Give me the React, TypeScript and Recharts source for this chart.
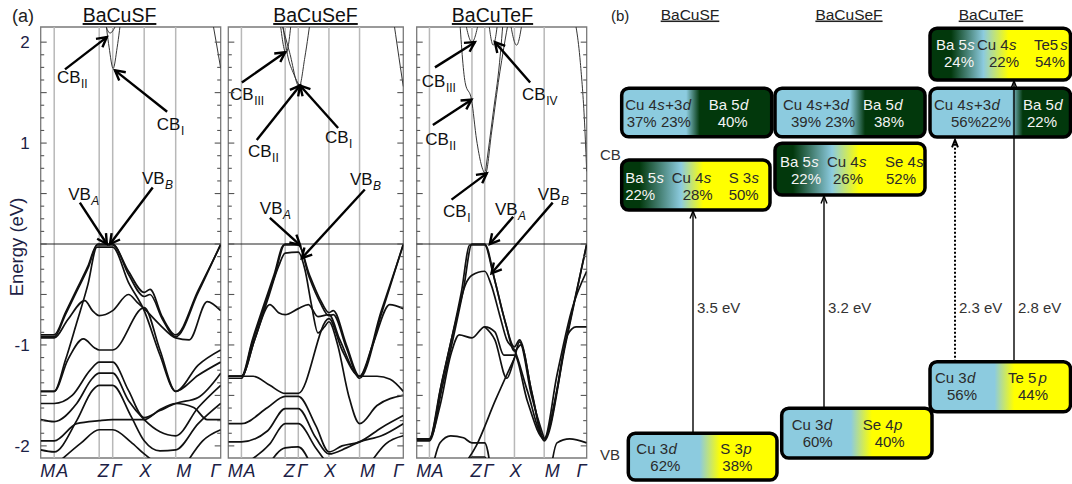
import React from "react";
import {
  ComposedChart,
  Line,
  LineChart,
  ReferenceArea,
  ReferenceDot,
  ReferenceLine,
  Scatter,
  XAxis,
  YAxis,
} from "recharts";

const FONT = '"Liberation Sans", Arial, Helvetica, sans-serif';
const NAVY = "#1c2145";
const CU = "#8ccbdf";
const BA = "#02380c";
const AN = "#ffff00";

// k-path M-A-Z-Γ-X-M-Γ in path units
const kPath = [0, 0.3, 1.3, 1.6, 2.3, 3.0, 4.0];
const kNames = ["M", "A", "Z", "Γ", "X", "M", "Γ"];
const energyLabels = [2, 1, -1, -2];
const E_MIN = -2.12;
const E_MAX = 2.15;
const energyTicks = Array.from({ length: 33 }, (_, i) => -2 + i * 0.125);

const compounds = ["BaCuSF", "BaCuSeF", "BaCuTeF"];

type Pt = [number, number];

// band energies (eV) along the path, VBM = 0
const sfValence: Pt[][] = [
  [[0, -0.9], [0.3, -0.9], [0.55, -0.68], [0.8, -0.45], [1.05, -0.22], [1.25, -0.01], [1.6, -0.01], [1.95, -0.27], [2.3, -0.48], [2.43, -0.45], [2.7, -0.72], [3.0, -0.9], [3.5, -0.46], [4.0, -0.01]],
  [[0, -0.92], [0.3, -0.92], [0.55, -0.7], [0.8, -0.47], [1.05, -0.24], [1.27, 0], [1.6, 0], [1.95, -0.3], [2.3, -0.52], [2.43, -0.5], [2.7, -0.74], [3.0, -0.92], [3.5, -0.48], [4.0, 0]],
  [[0, -1.46], [0.3, -1.46], [0.55, -1.15], [0.8, -0.78], [1.05, -0.4], [1.25, -0.03], [1.6, -0.03], [1.95, -0.38], [2.3, -0.66], [2.65, -1.1], [3.0, -1.46], [3.5, -1.3], [4.0, -1.17]],
  [[0, -0.93], [0.3, -0.93], [0.6, -0.75], [0.98, -0.56], [1.15, -0.66], [1.3, -0.71], [1.6, -0.66], [1.95, -0.5], [2.15, -0.58], [2.3, -0.64], [2.65, -0.8], [3.0, -0.93], [3.3, -0.95], [3.7, -0.57], [4.0, -0.66]],
  [[0, -1.46], [0.3, -1.46], [0.6, -1.15], [0.95, -0.94], [1.2, -1.03], [1.3, -1.05], [1.6, -1.05], [2.3, -0.63], [2.65, -1.05], [3.0, -1.46], [3.5, -1.2], [4.0, -1.05]],
  [[0, -1.58], [0.3, -1.58], [0.7, -1.5], [1.1, -1.25], [1.3, -1.17], [1.6, -1.17], [1.95, -1.45], [2.3, -1.72], [2.65, -1.65], [3.0, -1.58], [3.5, -1.52], [4.0, -1.28]],
  [[0, -1.74], [0.3, -1.76], [0.8, -1.58], [1.15, -1.33], [1.3, -1.28], [1.6, -1.28], [1.95, -1.55], [2.3, -1.74], [2.65, -1.86], [3.0, -1.9], [3.5, -1.62], [4.0, -1.4]],
  [[0, -2.04], [0.3, -2.06], [0.8, -1.75], [1.15, -1.45], [1.3, -1.4], [1.6, -1.4], [2.0, -1.7], [2.3, -1.95], [2.65, -2.05], [3.0, -2.04], [3.5, -1.78], [4.0, -1.58]],
  [[0, -1.95], [0.3, -1.95], [0.8, -1.78], [1.3, -1.75], [1.6, -1.74], [2.3, -1.74], [2.65, -1.64], [3.0, -1.58], [3.4, -1.62], [3.7, -1.74], [4.0, -1.74]],
  [[0.3, -2.2], [0.9, -1.97], [1.3, -1.84], [1.6, -1.84], [2.0, -1.96], [2.3, -2.08], [2.65, -2.2]],
  [[3.2, -2.2], [3.6, -1.95], [4.0, -1.84]],
];
const sfConduction: Pt[][] = [
  [[1.42, 2.3], [1.52, 1.95], [1.61, 1.74], [1.7, 1.95], [1.8, 2.3]],
  [[1.42, 2.2], [1.54, 2.09], [1.7, 2.2]],
  [[3.78, 2.3], [3.9, 2.0], [4.0, 1.74]],
];

const sefValence: Pt[][] = [
  [[0, -1.31], [0.3, -1.31], [0.55, -0.95], [0.8, -0.62], [1.05, -0.3], [1.27, -0.01], [1.6, -0.01], [1.85, -0.3], [2.1, -0.55], [2.3, -0.68], [2.4, -0.66], [2.7, -1.0], [3.0, -1.31], [3.5, -0.66], [4.0, -0.01]],
  [[0, -1.33], [0.3, -1.33], [0.55, -0.97], [0.8, -0.65], [1.05, -0.33], [1.3, 0], [1.6, 0], [1.85, -0.33], [2.1, -0.58], [2.3, -0.71], [2.4, -0.7], [2.7, -1.03], [3.0, -1.33], [3.5, -0.69], [4.0, 0]],
  [[0, -1.31], [0.3, -1.31], [0.6, -0.95], [0.9, -0.55], [1.15, -0.22], [1.3, -0.09], [1.6, -0.08], [1.75, -0.25], [1.9, -0.6], [2.05, -0.88], [2.2, -0.82], [2.3, -0.77], [2.5, -1.0], [2.75, -1.5], [3.0, -1.78], [3.4, -1.6], [4.0, -1.5]],
  [[0, -1.31], [0.3, -1.31], [0.6, -0.95], [0.95, -0.6], [1.15, -0.68], [1.3, -0.7], [1.6, -0.64], [1.83, -0.6], [2.05, -0.72], [2.3, -0.7], [2.55, -0.95], [3.0, -1.31], [3.3, -1.0], [3.69, -0.6], [4.0, -0.64]],
  [[0, -1.31], [0.3, -1.31], [0.57, -1.31], [0.95, -1.4], [1.3, -1.48], [1.6, -1.48], [2.3, -0.74], [2.6, -1.05], [3.0, -1.31], [3.4, -1.31], [3.7, -1.34], [4.0, -1.46]],
  [[0, -1.78], [0.3, -1.78], [0.9, -1.62], [1.3, -1.51], [1.6, -1.51], [2.0, -1.8], [2.3, -2.06], [2.6, -2.0], [3.0, -1.96], [3.5, -1.82], [4.0, -1.7]],
  [[0, -1.96], [0.3, -1.96], [0.9, -1.85], [1.3, -1.63], [1.6, -1.63], [2.0, -1.92], [2.3, -2.08], [2.7, -2.02], [3.0, -1.96], [3.5, -1.9], [4.0, -1.78]],
  [[0.3, -2.2], [0.95, -1.98], [1.3, -1.78], [1.6, -1.78], [2.0, -2.02], [2.3, -2.2]],
  [[0.9, -2.2], [1.3, -2.02], [1.6, -2.01], [1.9, -2.2]],
  [[3.2, -2.2], [3.6, -1.98], [4.0, -1.9]],
];
const sefConduction: Pt[][] = [
  [[1.15, 2.3], [1.4, 1.9], [1.62, 1.56], [1.75, 1.85], [1.9, 2.3]],
  [[1.17, 2.25], [1.32, 1.89], [1.45, 2.25]],
  [[1.22, 2.25], [1.35, 1.88], [1.5, 1.68], [1.62, 1.57]],
  [[3.75, 2.3], [3.9, 1.85], [4.0, 1.56]],
];

const tefValence: Pt[][] = [
  [[0, -1.93], [0.3, -1.93], [0.55, -1.45], [0.8, -0.98], [1.05, -0.48], [1.25, -0.01], [1.6, -0.01], [1.8, -0.3], [2.05, -0.72], [2.3, -1.02], [2.42, -0.95], [2.7, -1.45], [3.0, -1.93], [3.5, -0.97], [4.0, -0.01]],
  [[0, -1.95], [0.3, -1.95], [0.6, -1.42], [0.85, -0.95], [1.1, -0.45], [1.3, 0], [1.6, 0], [1.85, -0.38], [2.1, -0.8], [2.3, -1.06], [2.45, -1.0], [2.72, -1.5], [3.0, -1.95], [3.5, -1.0], [4.0, 0]],
  [[0, -1.93], [0.3, -1.93], [0.6, -1.35], [0.9, -0.8], [1.15, -0.4], [1.3, -0.31], [1.6, -0.27], [1.75, -0.4], [1.95, -0.7], [2.12, -0.95], [2.3, -1.05], [2.6, -1.45], [3.0, -1.93], [3.3, -1.3], [3.65, -0.65], [4.0, -0.27]],
  [[0, -1.93], [0.3, -1.93], [0.55, -1.6], [0.8, -1.1], [1.0, -0.9], [1.3, -0.93], [1.6, -0.82], [1.84, -0.87], [2.05, -1.1], [2.3, -1.1], [2.6, -1.55], [3.0, -1.93], [3.3, -1.45], [3.55, -0.9], [3.75, -0.82], [4.0, -0.82]],
  [[1.6, -0.82], [1.84, -0.95], [2.12, -1.33], [2.3, -1.13], [2.42, -0.97], [2.7, -1.5], [3.0, -1.93]],
  [[1.0, -2.25], [1.4, -2.0], [1.85, -1.55], [2.3, -1.13]],
  [[0.35, -2.25], [0.55, -1.97], [0.8, -1.9], [1.1, -1.92], [1.3, -1.97], [1.6, -1.97], [1.75, -2.25]],
  [[3.15, -2.25], [3.3, -1.97], [3.6, -1.93], [4.0, -1.97]],
  [[1.15, -2.25], [1.3, -2.11], [1.6, -2.11], [1.72, -2.25]],
];
const tefConduction: Pt[][] = [
  [[1.0, 2.3], [1.14, 1.6], [1.29, 1.43], [1.41, 1.03], [1.62, 0.7], [1.76, 1.1], [1.92, 1.6], [2.08, 2.02], [2.2, 2.3]],
  [[1.62, 0.72], [1.8, 1.3], [1.95, 1.8], [2.05, 2.3]],
  [[1.12, 2.25], [1.3, 2.0], [1.48, 2.25]],
  [[1.68, 2.25], [1.8, 1.97], [1.92, 2.25]],
  [[2.18, 2.25], [2.35, 1.97], [2.5, 2.25]],
  [[3.68, 2.3], [3.85, 1.8], [3.95, 1.2], [4.0, 0.72]],
];

type Note = { text: string; sub: string; italic?: boolean; at: Pt; from: Pt; to: Pt };

const sfNotes: Note[] = [
  { text: "CB", sub: "II", at: [0.36, 1.6], from: [0.54, 1.73], to: [1.47, 2.05] },
  { text: "CB", sub: "I", at: [2.58, 1.13], from: [2.81, 1.31], to: [1.65, 1.72] },
  { text: "VB", sub: "A", italic: true, at: [0.61, 0.44], from: [0.87, 0.41], to: [1.47, 0.0] },
  { text: "VB", sub: "B", italic: true, at: [2.25, 0.59], from: [2.49, 0.56], to: [1.54, 0.0] },
];
const sefNotes: Note[] = [
  { text: "CB", sub: "III", at: [0.04, 1.43], from: [0.31, 1.6], to: [1.3, 1.9] },
  { text: "CB", sub: "II", at: [0.45, 0.86], from: [0.65, 1.03], to: [1.64, 1.57] },
  { text: "CB", sub: "I", at: [2.21, 1.0], from: [2.51, 1.15], to: [1.64, 1.57] },
  { text: "VB", sub: "A", italic: true, at: [0.72, 0.3], from: [0.95, 0.26], to: [1.64, -0.01] },
  { text: "VB", sub: "B", italic: true, at: [2.78, 0.58], from: [3.12, 0.54], to: [1.68, -0.14] },
];
const tefNotes: Note[] = [
  { text: "CB", sub: "III", at: [0.12, 1.56], from: [0.43, 1.75], to: [1.37, 2.0] },
  { text: "CB", sub: "II", at: [0.2, 0.98], from: [0.38, 1.18], to: [1.29, 1.43] },
  { text: "CB", sub: "I", at: [0.62, 0.27], from: [0.82, 0.44], to: [1.65, 0.7] },
  { text: "CB", sub: "IV", at: [2.48, 1.43], from: [2.67, 1.6], to: [1.84, 2.0] },
  { text: "VB", sub: "A", italic: true, at: [1.84, 0.29], from: [2.27, 0.27], to: [1.72, 0.0] },
  { text: "VB", sub: "B", italic: true, at: [2.85, 0.44], from: [3.2, 0.41], to: [1.76, -0.29] },
];

// orbital character of the band edges: [orbital, weight]
const sfCbHigh = [["Cu 4s+3d", "37% 23%"], ["Ba 5d", "40%"]];
const sfCbLow = [["Ba 5s", "22%"], ["Cu 4s", "28%"], ["S 3s", "50%"]];
const sfVb = [["Cu 3d", "62%"], ["S 3p", "38%"]];
const sefCbHigh = [["Cu 4s+3d", "39% 23%"], ["Ba 5d", "38%"]];
const sefCbLow = [["Ba 5s", "22%"], ["Cu 4s", "26%"], ["Se 4s", "52%"]];
const sefVb = [["Cu 3d", "60%"], ["Se 4p", "40%"]];
const tefCbHigh = [["Ba 5s", "24%"], ["Cu 4s", "22%"], ["Te5s", "54%"]];
const tefCbLow = [["Cu 4s+3d", "56%22%"], ["Ba 5d", "22%"]];
const tefVb = [["Cu 3d", "56%"], ["Te 5p", "44%"]];
const gapValues = [3.5, 3.2, 2.3, 2.8];

type Box = {
  parts: string[][];
  x1: number; x2: number; y1: number; y2: number;
  stops: [number, string][];
  dx: number[][];
  rows: number[];
};

// schematic layout (panel units, y downwards)
const boxes: Box[] = [
  { parts: sfCbHigh, x1: 21.7, x2: 171.7, y1: 88.3, y2: 136.7, stops: [[0, CU], [0.43, CU], [0.52, BA], [1, BA]], dx: [[3.5, 5], [87, 96]], rows: [22, 39] },
  { parts: sfCbLow, x1: 21.7, x2: 170, y1: 160, y2: 210, stops: [[0, BA], [0.12, BA], [0.4, CU], [0.55, AN], [1, AN]], dx: [[3.5, 3.5], [50, 61], [107, 107]], rows: [22.5, 39.5] },
  { parts: sfVb, x1: 28.3, x2: 177, y1: 433.3, y2: 480, stops: [[0, CU], [0.48, CU], [0.62, AN], [1, AN]], dx: [[8, 22], [92, 94]], rows: [21, 38] },
  { parts: sefCbHigh, x1: 175, x2: 325, y1: 88.3, y2: 136.7, stops: [[0, CU], [0.5, CU], [0.6, BA], [1, BA]], dx: [[8, 16], [88, 99]], rows: [22, 39] },
  { parts: sefCbLow, x1: 175, x2: 325, y1: 143.3, y2: 195, stops: [[0, BA], [0.12, BA], [0.38, CU], [0.56, AN], [1, AN]], dx: [[5, 16], [52, 58], [110, 111]], rows: [23.5, 41] },
  { parts: sefVb, x1: 181.7, x2: 332, y1: 408.3, y2: 458, stops: [[0, CU], [0.46, CU], [0.6, AN], [1, AN]], dx: [[10, 21], [81, 93]], rows: [21.5, 38.5] },
  { parts: tefCbHigh, x1: 330, x2: 470.5, y1: 28.3, y2: 80, stops: [[0, BA], [0.15, BA], [0.38, CU], [0.56, AN], [1, AN]], dx: [[6, 14], [47, 59], [104, 105]], rows: [22, 39] },
  { parts: tefCbLow, x1: 330, x2: 470.5, y1: 88.3, y2: 137, stops: [[0, CU], [0.58, CU], [0.66, BA], [1, BA]], dx: [[4, 21], [93, 97]], rows: [21.5, 38.5] },
  { parts: tefVb, x1: 330, x2: 470.5, y1: 361.7, y2: 411.7, stops: [[0, CU], [0.46, CU], [0.6, AN], [1, AN]], dx: [[5, 17], [78, 88]], rows: [21.5, 38.5] },
];
const gapArrows = [
  { x: 93, from: 433.3, to: 211, dotted: false },
  { x: 224, from: 408.3, to: 196, dotted: false },
  { x: 355, from: 361.7, to: 140, dotted: true },
  { x: 414, from: 361.7, to: 81, dotted: false },
];

const pts = (b: Pt[]) => b.map(([k, e]) => ({ k, e }));

// Arial / Liberation Sans advance widths (em) for the glyphs used in run-split labels
const GLYPH: Record<string, number> = {
  " ": 0.278, "+": 0.584, "%": 0.889, C: 0.722, u: 0.556, B: 0.667, a: 0.556, S: 0.667,
  e: 0.556, T: 0.611, s: 0.5, d: 0.556, p: 0.556, V: 0.667, I: 0.278, A: 0.667,
};
const textW = (s: string, size: number) => [...s].reduce((w, ch) => w + (GLYPH[ch] ?? 0.556) * size, 0);

// split "Cu 4s+3d" into runs with the orbital letter set in italics
const orbitalRuns = (s: string) => {
  const runs: { t: string; it: boolean }[] = [];
  s.split(/(?<=\d)([spd])/).forEach((part, i) => {
    if (part) runs.push({ t: part, it: i % 2 === 1 });
  });
  return runs;
};

function RunText({ x, y, text, size, fill }: { x: number; y: number; text: string; size: number; fill: string }) {
  let cx = x;
  return (
    <g>
      {orbitalRuns(text).map((r, i) => {
        const el = (
          <text key={i} x={cx} y={y} fontSize={size} fill={fill} fontFamily={FONT} fontStyle={r.it ? "italic" : "normal"} style={{ whiteSpace: "pre" }}>
            {r.t}
          </text>
        );
        cx += textW(r.t, size) + 0.4;
        return el;
      })}
    </g>
  );
}

function Arrow({ x1, y1, x2, y2, len, spread, width, dash }: any) {
  const a = Math.atan2(y2 - y1, x2 - x1);
  const lx = x2 - len * Math.cos(a - spread);
  const ly = y2 - len * Math.sin(a - spread);
  const rx = x2 - len * Math.cos(a + spread);
  const ry = y2 - len * Math.sin(a + spread);
  return (
    <g>
      <line x1={x1} y1={y1} x2={x2} y2={y2} stroke="#000" strokeWidth={width} strokeDasharray={dash} />
      <polyline points={`${lx},${ly} ${x2},${y2} ${rx},${ry}`} fill="none" stroke="#000" strokeWidth={width} />
    </g>
  );
}

const energyTick = (side: "left" | "right", labelled: boolean) => (props: any) => {
  const { x, y, payload } = props;
  const v = payload.value as number;
  const major = Math.abs(v * 2 - Math.round(v * 2)) < 1e-6;
  const dir = side === "left" ? 1 : -1;
  const label = energyLabels.find((l) => Math.abs(l - v) < 1e-6);
  return (
    <g>
      <line x1={x} x2={x + dir * (major ? 6 : 3.5)} y1={y} y2={y} stroke="#555" strokeWidth={1.1} />
      {labelled && label !== undefined && (
        <text x={x - 11} y={y + 6} textAnchor="end" fontSize={17} fill={NAVY} fontFamily={FONT}>
          {String(label)}
        </text>
      )}
    </g>
  );
};

const kDx = [7, 8, 4, 4, 1, 8, -5];
const KTick = (props: any) => {
  const { x, y, index } = props;
  return (
    <text x={x + kDx[index]} y={y + 19} textAnchor="middle" fontStyle="italic" fontSize={18} fill={NAVY} fontFamily={FONT}>
      {kNames[index]}
    </text>
  );
};

function NoteText({ cx, cy, note }: { cx: number; cy: number; note: Note }) {
  return (
    <g>
      <text x={cx} y={cy} fontSize={17} fill="#111" fontFamily={FONT}>
        {note.text}
      </text>
      <text x={cx + textW(note.text, 17) + 0.5} y={cy + 5} fontSize={12} fill="#111" fontFamily={FONT} fontStyle={note.italic ? "italic" : "normal"}>
        {note.sub}
      </text>
    </g>
  );
}

type PanelProps = {
  chartLeft: number;
  axisLeft: number;
  plotW: number;
  valence: Pt[][];
  conduction: Pt[][];
  notes: Note[];
  labelled: boolean;
};

function BandPanel({ chartLeft, axisLeft, plotW, valence, conduction, notes, labelled }: PanelProps) {
  const axisRight = 5.5;
  return (
    <div style={{ position: "absolute", left: chartLeft, top: 0 }}>
      <LineChart width={axisLeft + plotW + axisRight} height={484} margin={{ top: 27, right: 0, bottom: 0, left: 0 }}>
        <XAxis
          dataKey="k"
          type="number"
          domain={[0, 4]}
          ticks={kPath}
          interval={0}
          allowDataOverflow
          height={26}
          tickSize={0}
          tickMargin={0}
          axisLine={false}
          tickLine={false}
          tick={KTick}
        />
        <YAxis
          type="number"
          domain={[E_MIN, E_MAX]}
          allowDataOverflow
          ticks={energyTicks}
          interval={0}
          width={axisLeft}
          tickSize={0}
          tickMargin={0}
          axisLine={false}
          tickLine={false}
          tick={energyTick("left", labelled)}
        />
        <YAxis
          yAxisId="r"
          orientation="right"
          type="number"
          domain={[E_MIN, E_MAX]}
          allowDataOverflow
          ticks={energyTicks}
          interval={0}
          width={axisRight}
          tickSize={0}
          tickMargin={0}
          axisLine={false}
          tickLine={false}
          tick={energyTick("right", false)}
        />
        {kPath.slice(1, -1).map((k, i) => (
          <ReferenceLine key={`g${i}`} x={k} stroke="#b8b8b8" strokeWidth={1.5} />
        ))}
        <ReferenceLine y={0} stroke="#222" strokeWidth={1} />
        <ReferenceArea x1={0} x2={4} y1={E_MIN} y2={E_MAX} fill="none" stroke="#7a7a7a" strokeWidth={1.3} />
        {valence.map((b, i) => (
          <Line key={`v${i}`} data={pts(b)} dataKey="e" type="monotone" stroke="#111" strokeWidth={1.7} dot={false} isAnimationActive={false} />
        ))}
        {conduction.map((b, i) => (
          <Line key={`c${i}`} data={pts(b)} dataKey="e" type="monotone" stroke="#333" strokeWidth={1} dot={false} isAnimationActive={false} />
        ))}
        {notes.map((n, i) => (
          <ReferenceLine
            key={`a${i}`}
            segment={[{ x: n.from[0], y: n.from[1] }, { x: n.to[0], y: n.to[1] }]}
            shape={(p: any) => <Arrow x1={p.x1} y1={p.y1} x2={p.x2} y2={p.y2} len={11} spread={0.5} width={2.4} />}
          />
        ))}
        {notes.map((n, i) => (
          <ReferenceDot key={`t${i}`} x={n.at[0]} y={n.at[1]} r={0} shape={(p: any) => <NoteText cx={p.cx} cy={p.cy} note={n} />} />
        ))}
      </LineChart>
    </div>
  );
}

const boxShape = (box: Box, idx: number) => (p: any) => {
  const { x, y, width, height } = p;
  const id = `orb-grad-${idx}`;
  return (
    <g>
      <defs>
        <linearGradient id={id} x1="0" y1="0" x2="1" y2="0">
          {box.stops.map(([o, c], i) => (
            <stop key={i} offset={o} stopColor={c} />
          ))}
        </linearGradient>
      </defs>
      <rect x={x} y={y} width={width} height={height} rx={7} ry={7} fill={`url(#${id})`} stroke="#000" strokeWidth={3.5} />
      {box.parts.map(([name, pct], j) => {
        const fill = name.startsWith("Ba") ? "#f4f4f4" : "#2a2a2a";
        return (
          <g key={j}>
            <RunText x={x + box.dx[j][0]} y={y + box.rows[0]} text={name} size={15} fill={fill} />
            <text x={x + box.dx[j][1]} y={y + box.rows[1]} fontSize={15} fill={fill} fontFamily={FONT}>
              {pct}
            </text>
          </g>
        );
      })}
    </g>
  );
};

function OrbitalPanel() {
  const gapLabels = gapArrows.map((a, i) => ({ x: a.x + 4, y: 313, text: `${gapValues[i]} eV` }));
  return (
    <div style={{ position: "absolute", left: 600, top: 0 }}>
      <ComposedChart width={472} height={484} margin={{ top: 0, right: 0, bottom: 0, left: 0 }}>
        <XAxis type="number" dataKey="x" domain={[0, 472]} hide />
        <YAxis type="number" dataKey="y" domain={[0, 484]} reversed hide />
        {boxes.map((b, i) => (
          <ReferenceArea key={`b${i}`} x1={b.x1} x2={b.x2} y1={b.y1} y2={b.y2} shape={boxShape(b, i)} />
        ))}
        {gapArrows.map((a, i) => (
          <ReferenceLine
            key={`g${i}`}
            segment={[{ x: a.x, y: a.from }, { x: a.x, y: a.to }]}
            shape={(p: any) => (
              <Arrow x1={p.x1} y1={p.y1} x2={p.x2} y2={p.y2} len={8} spread={0.38} width={a.dotted ? 2 : 1.4} dash={a.dotted ? "2 2" : undefined} />
            )}
          />
        ))}
        <Scatter
          data={gapLabels}
          isAnimationActive={false}
          shape={(p: any) => (
            <text x={p.cx} y={p.cy} fontSize={15} fill="#333" fontFamily={FONT}>
              {p.payload.text}
            </text>
          )}
        />
      </ComposedChart>
    </div>
  );
}

export default function App() {
  const aTitles = [119.5, 315.5, 492.5];
  const bTitles = [690, 849, 991];
  return (
    <div style={{ position: "absolute", left: 0, top: 0, width: 1072, height: 484, background: "#fff", fontFamily: FONT, overflow: "hidden" }}>
      <BandPanel chartLeft={0} axisLeft={40.7} plotW={180} valence={sfValence} conduction={sfConduction} notes={sfNotes} labelled />
      <BandPanel chartLeft={222} axisLeft={6.3} plotW={175} valence={sefValence} conduction={sefConduction} notes={sefNotes} labelled={false} />
      <BandPanel chartLeft={410} axisLeft={6.7} plotW={170} valence={tefValence} conduction={tefConduction} notes={tefNotes} labelled={false} />
      <OrbitalPanel />
      <svg width={1072} height={484} style={{ position: "absolute", left: 0, top: 0, pointerEvents: "none" }} fontFamily={FONT}>
        <text x={12} y={22} fontSize={18} fill="#222">(a)</text>
        {compounds.map((c, i) => (
          <text key={`ta${i}`} x={aTitles[i]} y={22} fontSize={19.5} textAnchor="middle" fill="#111" style={{ textDecoration: "underline" }}>
            {c}
          </text>
        ))}
        <text transform="translate(23,247) rotate(-90)" textAnchor="middle" fontSize={18.5} fill={NAVY}>
          Energy (eV)
        </text>
        <text x={611} y={21} fontSize={15} fill="#222">(b)</text>
        {compounds.map((c, i) => (
          <text key={`tb${i}`} x={bTitles[i]} y={19.5} fontSize={15.5} textAnchor="middle" fill="#222" style={{ textDecoration: "underline" }}>
            {c}
          </text>
        ))}
        <text x={600} y={160} fontSize={15} fill="#333">CB</text>
        <text x={600} y={460} fontSize={15} fill="#333">VB</text>
      </svg>
    </div>
  );
}
